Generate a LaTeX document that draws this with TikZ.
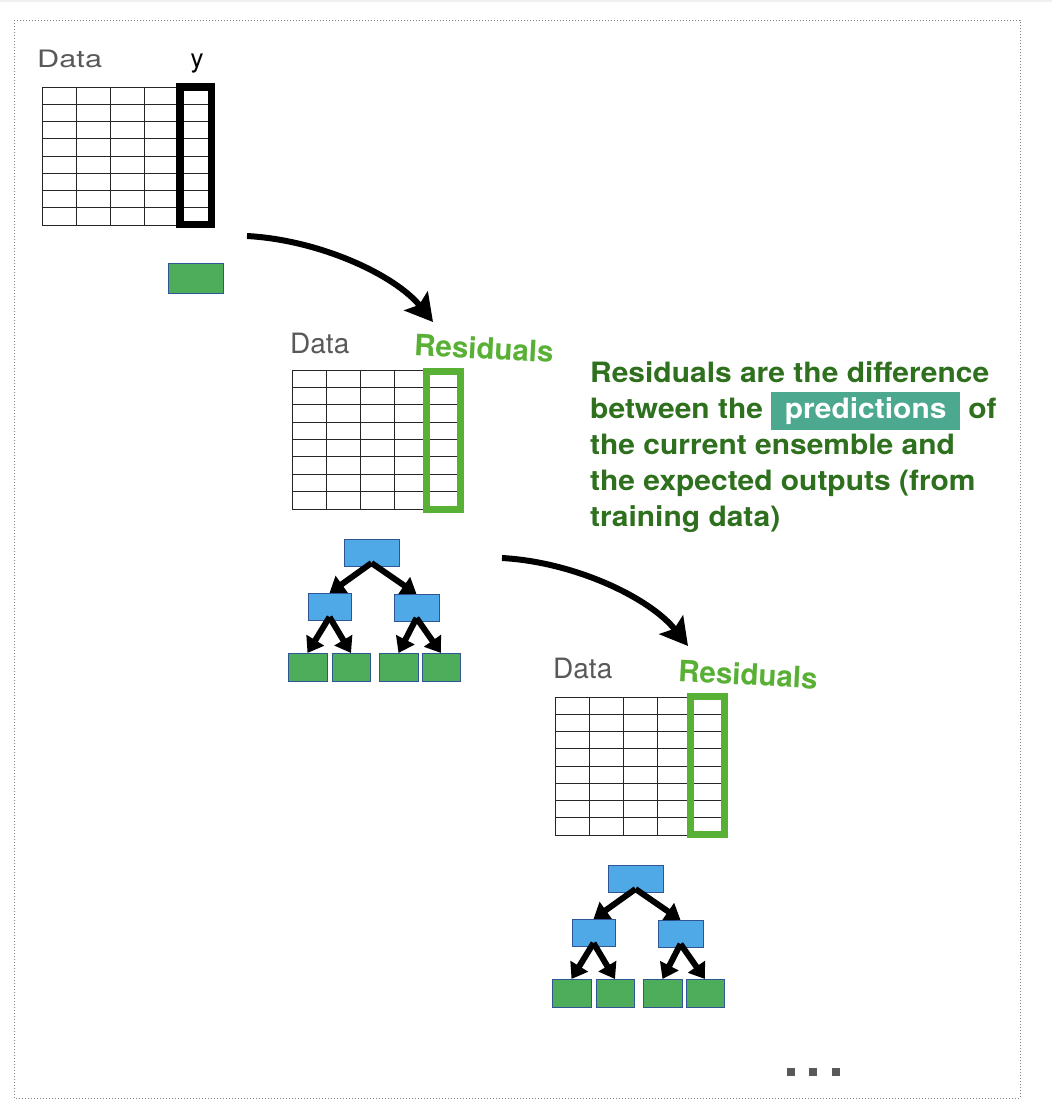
\documentclass[tikz,border=0pt]{standalone}
\usepackage{fontspec}
\setmainfont{TeX Gyre Heros}
\newfontfamily\widefont[FakeStretch=1.28]{TeX Gyre Heros}
\newfontfamily\parafont[FakeStretch=1.07]{TeX Gyre Heros}
\usetikzlibrary{arrows.meta}
\definecolor{datagray}{HTML}{595959}
\definecolor{resgreen}{HTML}{58B034}
\definecolor{paragreen}{HTML}{2E701E}
\definecolor{predteal}{HTML}{4CA98F}
\definecolor{nodeblue}{HTML}{4FA9E6}
\definecolor{leafgreen}{HTML}{4DAD5B}
\definecolor{navyline}{HTML}{2F5597}
\setlength{\fboxsep}{5.5pt}
\tikzset{
  box/.style={draw=navyline, line width=1pt, inner sep=0pt, outer sep=0pt},
  bluebox/.style={box, fill=nodeblue},
  leafbox/.style={box, fill=leafgreen},
  treearrow/.style={line width=6pt, -{Triangle[width=20pt,length=15pt]}},
  bigarrow/.style={line width=6pt, -{Stealth[width=30pt,length=27pt,inset=5pt]}},
  gridline/.style={line width=1pt, black!85},
  datalabel/.style={text=datagray, font=\fontsize{28}{28}\selectfont, anchor=base west, inner sep=0pt},
  reslabel/.style={text=resgreen, font=\bfseries\fontsize{29.5}{30}\selectfont, inner sep=0pt, rotate=-3},
  dotsq/.style={fill=datagray, minimum size=8pt, inner sep=0pt},
}
\newcommand\datatable[4]{% name, x, y, height
  \node[anchor=north west, minimum width=170pt, minimum height=#4pt, inner sep=0pt, outer sep=0pt] (#1) at (#2,#3) {};
  \begin{scope}[shift={(#2,#3)}]
    \foreach \i in {0,...,5} \draw[gridline] (\i*34,0) -- (\i*34,#4);
    \foreach \j in {0,...,8} \draw[gridline] (0,\j*#4/8) -- (170,\j*#4/8);
  \end{scope}}
\newcommand\gbtree[3]{% prefix, dx, dy
  \begin{scope}[shift={(#2,#3)}]
    \node[bluebox, minimum width=55pt, minimum height=27pt] (#1r) at (371.5,552.5) {};
    \node[bluebox, minimum width=43pt, minimum height=27pt] (#1a) at (329.5,606.5) {};
    \node[bluebox, minimum width=45pt, minimum height=27pt] (#1b) at (416.5,607.5) {};
    \node[leafbox, minimum width=39pt, minimum height=28pt] (#1la) at (307.5,667) {};
    \node[leafbox, minimum width=38pt, minimum height=28pt] (#1lb) at (351,667) {};
    \node[leafbox, minimum width=39pt, minimum height=28pt] (#1lc) at (398.5,667) {};
    \node[leafbox, minimum width=38pt, minimum height=28pt] (#1ld) at (441,667) {};
    \draw[treearrow] ([yshift=3pt]#1r.south) -- (#1a.north);
    \draw[treearrow] ([yshift=3pt]#1r.south) -- (#1b.north);
    \draw[treearrow] ([yshift=3pt]#1a.south) -- (#1la.north);
    \draw[treearrow] ([yshift=3pt]#1a.south) -- (#1lb.north);
    \draw[treearrow] ([yshift=3pt]#1b.south) -- (#1lc.north);
    \draw[treearrow] ([yshift=3pt]#1b.south) -- (#1ld.north);
  \end{scope}}
\begin{document}
\begin{tikzpicture}[x=1pt, y=-1pt]
  \useasboundingbox (0,0) rectangle (1052,1120);
  \fill[white] (0,0) rectangle (1052,1120);
  \fill[gray!12] (0,0) rectangle (1052,2);
  \draw[gray, dash pattern=on 1pt off 2pt, line width=0.8pt] (14,20) rectangle (1020,1098);

  % stage 1
  \datatable{t1}{42}{87}{138}
  \draw[line width=7.5pt] (179.75,86.75) rectangle (211.25,224.25);
  \node[datalabel, font=\widefont\fontsize{24}{24}\selectfont] (d1) at (37,67) {Data};
  \node[anchor=base, inner sep=0pt, font=\fontsize{26}{26}\selectfont] (y1) at (197,67) {y};
  \node[leafbox, minimum width=55pt, minimum height=30pt] (g0) at (195.5,278) {};

  % stage 2
  \datatable{t2}{292}{370}{139}
  \draw[resgreen, line width=7pt] (426.5,371.5) rectangle (460.5,509.5);
  \node[datalabel] (d2) at (290,353) {Data};
  \node[reslabel] (r2) at (484,348) {Residuals};
  \gbtree{p}{0}{0}

  % stage 3
  \datatable{t3}{555}{697}{138}
  \draw[resgreen, line width=7pt] (690.5,696.5) rectangle (724.5,834.5);
  \node[datalabel] (d3) at (553,678) {Data};
  \node[reslabel] (r3) at (748,674.5) {Residuals};
  \gbtree{q}{264}{326}

  % arrows between stages
  \coordinate (a1s) at (247,236);
  \coordinate (a1e) at (433,322);
  \draw[bigarrow] (a1s) .. controls (320,240) and (395,275) .. (a1e);
  \coordinate (a2s) at (502,558);
  \coordinate (a2e) at (688,646);
  \draw[bigarrow] (a2s) .. controls (575,562) and (650,598) .. (a2e);

  % explanation
  \node[anchor=base west, inner sep=0pt, align=left, text=paragreen,
        font=\parafont\bfseries\fontsize{28}{36}\selectfont] (para) at (590,526)
    {Residuals are the difference\\
     between the \colorbox{predteal}{\hspace{8pt}\textcolor{white}{predictions}\hspace{8pt}} of\\
     the current ensemble and\\
     the expected outputs (from\\
     training data)};

  % ellipsis
  \node[dotsq] (e1) at (791,1072) {};
  \node[dotsq] (e2) at (813,1072) {};
  \node[dotsq] (e3) at (836,1072) {};
\end{tikzpicture}
\end{document}
